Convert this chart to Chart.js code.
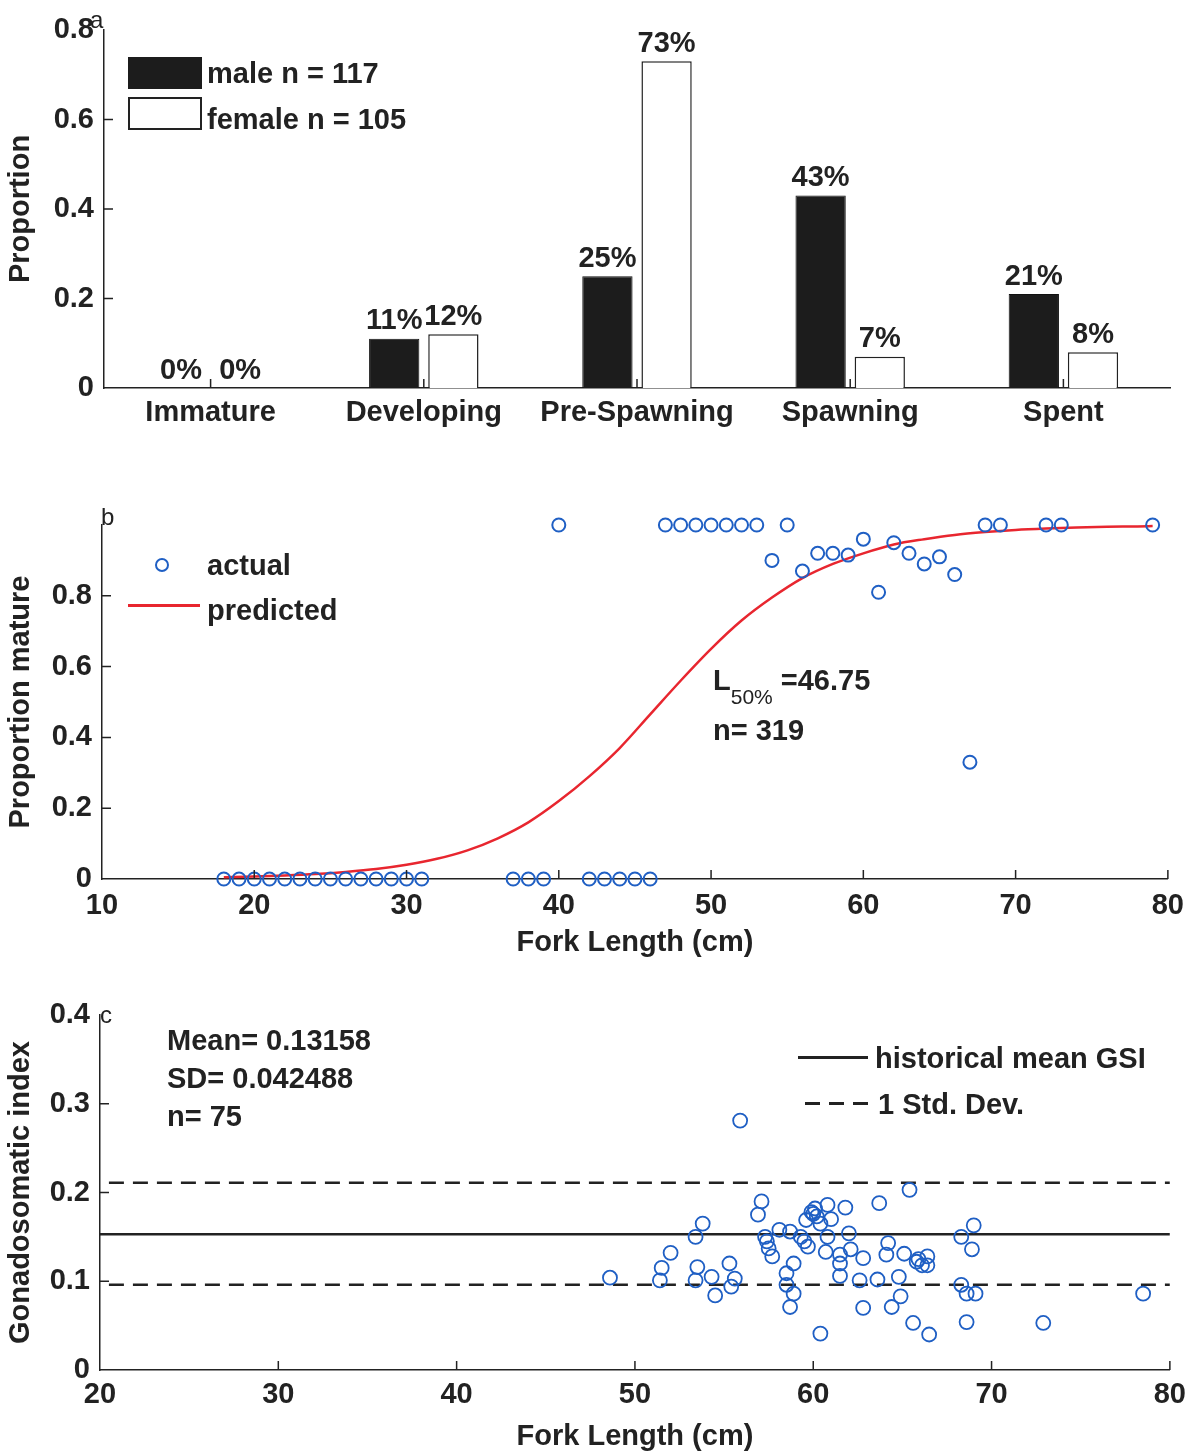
<!DOCTYPE html>
<html>
<head>
<meta charset="utf-8">
<title>Maturity and GSI</title>
<script src="https://cdn.jsdelivr.net/npm/chart.js@4.4.1/dist/chart.umd.min.js"></script>
<style>
    body { margin: 0; background: #fff; width: 1194px; height: 1456px; position: relative; overflow: hidden;
           font-family: "Liberation Sans", Arial, sans-serif; font-weight: bold; color: #222; }
    canvas { position: absolute; left: 0; }
    .txt { position: absolute; font-size: 29px; line-height: 1; white-space: nowrap; transform: translateY(-50%); }
    .letter { position: absolute; font-size: 24px; font-weight: normal; line-height: 1; }
    .swatch { position: absolute; box-sizing: border-box; }
</style>
</head>
<body>
<canvas id="chart_a" width="1194" height="440" style="top:0"></canvas>
<canvas id="chart_b" width="1194" height="500" style="top:470px"></canvas>
<canvas id="chart_c" width="1194" height="476" style="top:980px"></canvas>

<!-- panel letters -->
<div class="letter" style="left:90px;top:8px">a</div>
<div class="letter" style="left:101px;top:505px">b</div>
<div class="letter" style="left:100px;top:1003px">c</div>

<!-- panel a legend -->
<div class="swatch" style="left:128px;top:57px;width:74px;height:32px;background:#1c1c1c"></div>
<div class="swatch" style="left:128px;top:97px;width:74px;height:33px;border:2px solid #222;background:#fff"></div>
<div class="txt" style="left:207px;top:73px">male n = 117</div>
<div class="txt" style="left:207px;top:119px">female n = 105</div>

<!-- panel b legend + note -->
<div class="swatch" style="left:155px;top:558px;width:14px;height:14px;border:2px solid #1f5fc4;border-radius:50%"></div>
<div class="txt" style="left:207px;top:565px">actual</div>
<div class="swatch" style="left:128px;top:604px;width:72px;height:3px;background:#e8262f"></div>
<div class="txt" style="left:207px;top:610px">predicted</div>
<div class="txt" style="left:713px;top:680px">L<span style="font-size:21px;font-weight:normal;position:relative;top:14px">50%</span> =46.75</div>
<div class="txt" style="left:713px;top:730px">n= 319</div>

<!-- panel c notes + legend -->
<div class="txt" style="left:167px;top:1040px">Mean= 0.13158</div>
<div class="txt" style="left:167px;top:1078px">SD= 0.042488</div>
<div class="txt" style="left:167px;top:1116px">n= 75</div>
<div class="swatch" style="left:798px;top:1056px;width:70px;height:3px;background:#222"></div>
<div class="txt" style="left:875px;top:1058px">historical mean GSI</div>
<div class="swatch" style="left:805px;top:1102px;width:63px;height:3px;background:repeating-linear-gradient(90deg,#222 0 15px,transparent 15px 24px)"></div>
<div class="txt" style="left:878px;top:1104px">1 Std. Dev.</div>

<script>
// panel a: maturity stage proportions
const stages = ['Immature', 'Developing', 'Pre-Spawning', 'Spawning', 'Spent'];
const maleProp = [0, 0.11, 0.25, 0.43, 0.21];
const femaleProp = [0, 0.12, 0.73, 0.07, 0.08];
const propTicks = [0, 0.2, 0.4, 0.6, 0.8];

// panel b: maturity ogive
const actualLen = [18, 19, 20, 21, 22, 23, 24, 25, 26, 27, 28, 29, 30, 31,
    37, 38, 39, 40, 42, 43, 44, 45, 46, 47, 48, 49, 50, 51, 52, 53, 55,
    54, 56, 57, 58, 59, 60, 61, 62, 63, 64, 65, 66, 67, 68, 69, 72, 73, 79];
const actualProp = [0, 0, 0, 0, 0, 0, 0, 0, 0, 0, 0, 0, 0, 0,
    0, 0, 0, 1, 0, 0, 0, 0, 0, 1, 1, 1, 1, 1, 1, 1, 1,
    0.90, 0.87, 0.92, 0.92, 0.915, 0.96, 0.81, 0.95, 0.92, 0.89, 0.91, 0.86, 0.33, 1, 1, 1, 1, 1];
// red curve every 2 cm
const predLen = [18, 20, 22, 24, 26, 28, 30, 32, 34, 36, 38, 40, 42, 44, 46, 48, 50,
    52, 54, 56, 58, 60, 62, 64, 66, 68, 70, 72, 74, 76, 78, 79];
const predProp = [0.005, 0.007, 0.010, 0.014, 0.020, 0.028, 0.040, 0.057, 0.081, 0.115, 0.16, 0.22,
    0.29, 0.37, 0.465, 0.56, 0.65, 0.73, 0.795, 0.85, 0.89, 0.92, 0.945, 0.96, 0.972, 0.98,
    0.986, 0.99, 0.993, 0.995, 0.996, 0.997];
const matTicks = [0, 0.2, 0.4, 0.6, 0.8];

// panel c: gonadosomatic index
const gsiLen = [48.6, 51.4, 51.5, 52.0, 53.4, 53.8, 53.5, 53.4, 54.3, 54.5, 55.3, 55.6, 55.4, 55.9,
    57.1, 56.9, 57.3, 57.4, 57.5, 57.7, 58.1, 58.5, 58.5, 58.7, 58.7, 58.9, 58.9, 60.4,
    59.6, 59.9, 60.1, 60.2, 60.8, 61.0, 60.4, 61.8, 59.7, 59.5, 60.7, 60.8, 61.5, 61.5,
    61.5, 62.0, 62.1, 62.8, 62.6, 62.8, 63.7, 63.6, 64.2, 64.1, 64.8, 64.9, 64.4, 65.1,
    65.4, 65.6, 65.8, 66.4, 66.4, 66.5, 68.3, 69.0, 68.9, 68.3, 68.6, 69.1, 68.6, 72.9,
    78.5, 60.0, 59.3, 65.9, 66.1];
const gsiVal = [0.104, 0.101, 0.115, 0.132, 0.150, 0.165, 0.116, 0.101, 0.105, 0.084, 0.120, 0.103, 0.094, 0.281,
    0.190, 0.175, 0.150, 0.145, 0.137, 0.128, 0.158, 0.109, 0.096, 0.071, 0.156, 0.120, 0.086, 0.041,
    0.169, 0.178, 0.182, 0.173, 0.186, 0.170, 0.165, 0.183, 0.139, 0.145, 0.133, 0.150, 0.130, 0.120,
    0.106, 0.154, 0.136, 0.126, 0.101, 0.070, 0.188, 0.102, 0.143, 0.130, 0.105, 0.083, 0.071, 0.131,
    0.203, 0.053, 0.122, 0.128, 0.118, 0.040, 0.150, 0.163, 0.136, 0.096, 0.086, 0.086, 0.054, 0.053,
    0.086, 0.176, 0.150, 0.125, 0.118];
const histMean = 0.153;
const histUpper = 0.211;
const histLower = 0.096;
const gsiTicks = [0, 0.1, 0.2, 0.3, 0.4];

const INK = '#222';
const BLUE = '#1f5fc4';
Chart.defaults.font.family = '"Liberation Sans", Arial, sans-serif';
Chart.defaults.font.weight = 'bold';
Chart.defaults.font.size = 29;
Chart.defaults.color = INK;

// small tick marks pointing into the plot, like the original
const inTicks = {
    id: 'inTicks',
    afterDraw(chart, args, opts) {
        const { ctx, chartArea: a } = chart;
        const xs = chart.scales.x, ys = chart.scales.y;
        ctx.save();
        ctx.strokeStyle = INK;
        ctx.lineWidth = 1.5;
        ctx.beginPath();
        (opts.x || []).forEach(v => {
            const px = xs.getPixelForValue(v);
            ctx.moveTo(px, a.bottom);
            ctx.lineTo(px, a.bottom - opts.len);
        });
        (opts.y || []).forEach(v => {
            const py = ys.getPixelForValue(v);
            ctx.moveTo(a.left, py);
            ctx.lineTo(a.left + opts.len, py);
        });
        ctx.stroke();
        ctx.restore();
    }
};

// percentage labels above the bars
const barLabels = {
    id: 'barLabels',
    afterDatasetsDraw(chart) {
        const ctx = chart.ctx;
        ctx.save();
        ctx.font = 'bold 29px "Liberation Sans", Arial, sans-serif';
        ctx.fillStyle = INK;
        ctx.textAlign = 'center';
        ctx.textBaseline = 'bottom';
        chart.data.datasets.forEach((ds, i) => {
            chart.getDatasetMeta(i).data.forEach((bar, j) => {
                ctx.fillText(Math.round(ds.data[j] * 100) + '%', bar.x, bar.y - 3);
            });
        });
        ctx.restore();
    }
};

function numLabel(v) {
    return v === 0 ? '0' : String(v);
}

function axisBorder() {
    return { display: true, color: INK, width: 1.5 };
}

new Chart(document.getElementById('chart_a'), {
    type: 'bar',
    data: {
        labels: stages,
        datasets: [
            { label: 'male n = 117', data: maleProp, backgroundColor: '#1c1c1c', borderColor: '#111', borderWidth: 1 },
            { label: 'female n = 105', data: femaleProp, backgroundColor: '#fff', borderColor: INK, borderWidth: 1.5 }
        ]
    },
    options: {
        responsive: false,
        animation: false,
        layout: { padding: { top: 30, right: 24, left: 0, bottom: 0 } },
        datasets: { bar: { categoryPercentage: 0.555, barPercentage: 0.85 } },
        plugins: {
            legend: { display: false },
            tooltip: { enabled: false },
            inTicks: { x: [0, 1, 2, 3, 4], y: [0.2, 0.4, 0.6], len: 9 }
        },
        scales: {
            x: {
                grid: { display: false, drawTicks: false },
                border: axisBorder(),
                ticks: { padding: 8, maxRotation: 0 },
                afterFit: s => { s.height = 52; }
            },
            y: {
                min: 0, max: 0.8,
                grid: { display: false, drawTicks: false },
                border: axisBorder(),
                afterBuildTicks: s => { s.ticks = propTicks.map(v => ({ value: v })); },
                ticks: { padding: 10, callback: numLabel },
                title: { display: true, text: 'Proportion', padding: { top: 4, bottom: 4 } },
                afterFit: s => { s.width = 104; }
            }
        }
    },
    plugins: [inTicks, barLabels]
});

new Chart(document.getElementById('chart_b'), {
    type: 'scatter',
    data: {
        datasets: [
            {
                label: 'actual',
                data: actualLen.map((x, i) => ({ x: x, y: actualProp[i] })),
                pointRadius: 6.5, borderColor: BLUE, borderWidth: 2, backgroundColor: 'rgba(0,0,0,0)'
            },
            {
                label: 'predicted',
                data: predLen.map((x, i) => ({ x: x, y: predProp[i] })),
                showLine: true, pointRadius: 0, borderColor: '#e8262f', borderWidth: 2.5,
                cubicInterpolationMode: 'monotone'
            }
        ]
    },
    options: {
        responsive: false,
        animation: false,
        clip: false,
        layout: { padding: { top: 55, right: 24, left: 0, bottom: 6 } },
        plugins: {
            legend: { display: false },
            tooltip: { enabled: false },
            inTicks: { x: [20, 30, 40, 50, 60, 70, 80], y: [0.2, 0.4, 0.6, 0.8], len: 9 }
        },
        scales: {
            x: {
                min: 10, max: 80,
                grid: { display: false, drawTicks: false },
                border: axisBorder(),
                ticks: { stepSize: 10, padding: 10, maxRotation: 0 },
                title: { display: true, text: 'Fork Length (cm)', padding: { top: 4, bottom: 4 } },
                afterFit: s => { s.height = 85; }
            },
            y: {
                min: 0, max: 1,
                grid: { display: false, drawTicks: false },
                border: axisBorder(),
                afterBuildTicks: s => { s.ticks = matTicks.map(v => ({ value: v })); },
                ticks: { padding: 10, callback: numLabel },
                title: { display: true, text: 'Proportion mature', padding: { top: 4, bottom: 4 } },
                afterFit: s => { s.width = 102; }
            }
        }
    },
    plugins: [inTicks]
});

new Chart(document.getElementById('chart_c'), {
    type: 'scatter',
    data: {
        datasets: [
            {
                label: 'GSI',
                data: gsiLen.map((x, i) => ({ x: x, y: gsiVal[i] })),
                pointRadius: 7, borderColor: BLUE, borderWidth: 1.8, backgroundColor: 'rgba(0,0,0,0)'
            },
            {
                label: 'historical mean GSI',
                data: [{ x: 20, y: histMean }, { x: 80, y: histMean }],
                showLine: true, pointRadius: 0, borderColor: INK, borderWidth: 2.5
            },
            {
                label: '1 Std. Dev.',
                data: [{ x: 20.5, y: histUpper }, { x: 80, y: histUpper }],
                showLine: true, pointRadius: 0, borderColor: INK, borderWidth: 2.5, borderDash: [15, 9]
            },
            {
                label: '1 Std. Dev. (lower)',
                data: [{ x: 20.5, y: histLower }, { x: 80, y: histLower }],
                showLine: true, pointRadius: 0, borderColor: INK, borderWidth: 2.5, borderDash: [15, 9]
            }
        ]
    },
    options: {
        responsive: false,
        animation: false,
        layout: { padding: { top: 35, right: 24, left: 0, bottom: 0 } },
        plugins: {
            legend: { display: false },
            tooltip: { enabled: false },
            inTicks: { x: [30, 40, 50, 60, 70, 80], y: [0.1, 0.2, 0.3], len: 9 }
        },
        scales: {
            x: {
                min: 20, max: 80,
                grid: { display: false, drawTicks: false },
                border: axisBorder(),
                ticks: { stepSize: 10, padding: 8, maxRotation: 0 },
                title: { display: true, text: 'Fork Length (cm)', padding: { top: 4, bottom: 2 } },
                afterFit: s => { s.height = 86; }
            },
            y: {
                min: 0, max: 0.4,
                grid: { display: false, drawTicks: false },
                border: axisBorder(),
                afterBuildTicks: s => { s.ticks = gsiTicks.map(v => ({ value: v })); },
                ticks: { padding: 10, callback: numLabel },
                title: { display: true, text: 'Gonadosomatic index', padding: { top: 4, bottom: 4 } },
                afterFit: s => { s.width = 100; }
            }
        }
    },
    plugins: [inTicks]
});
</script>
</body>
</html>
